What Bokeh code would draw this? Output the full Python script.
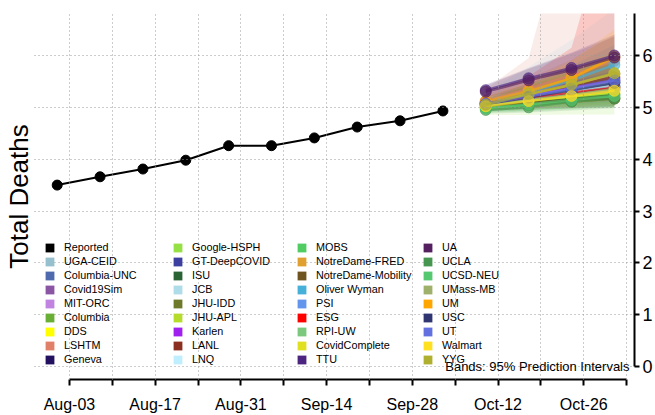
import pandas as pd
from bokeh.plotting import figure
from bokeh.models import (FixedTicker, Legend, LegendItem, Label, Range1d, Title, ColumnDataSource)
from bokeh.embed import file_html
from bokeh.resources import INLINE

# ---------------- data ----------------
reported_dates = ["2020-08-01", "2020-08-08", "2020-08-15", "2020-08-22", "2020-08-29",
                  "2020-09-05", "2020-09-12", "2020-09-19", "2020-09-26", "2020-10-03"]
reported_values = [3.50, 3.66, 3.81, 3.98, 4.26, 4.26, 4.41, 4.62, 4.74, 4.93]

forecast_dates = ["2020-10-10", "2020-10-17", "2020-10-24", "2020-10-31"]

model_names = ["UGA-CEID", "Columbia-UNC", "Covid19Sim", "MIT-ORC", "Columbia", "DDS", "LSHTM", "Geneva",
               "Google-HSPH", "GT-DeepCOVID", "ISU", "JCB", "JHU-IDD", "JHU-APL", "Karlen", "LANL", "LNQ",
               "MOBS", "NotreDame-FRED", "NotreDame-Mobility", "Oliver Wyman", "PSI", "ESG", "RPI-UW",
               "CovidComplete", "TTU",
               "UA", "UCLA", "UCSD-NEU", "UMass-MB", "UM", "USC", "UT", "Walmart", "YYG"]

model_colors = ["#96C0CE", "#4F6AAD", "#8A55A3", "#C084E0", "#6AAF35", "#FFFF00", "#E08068", "#23105E",
                "#95E045", "#3D3FA0", "#2A6435", "#AEDCE8", "#6E7A2A", "#B5DB2B", "#A020F0", "#8B3020", "#BFEFFF",
                "#50CC60", "#E0A030", "#6E5520", "#45B0D8", "#6495ED", "#FF0000", "#7CC87C",
                "#E0E020", "#4B2580",
                "#552060", "#469650", "#55C870", "#9FB06A", "#FFA500", "#2F3570", "#6270E0", "#FFE020", "#B0B030"]

forecast_median = [
    [5.06, 5.18, 5.30, 5.42], [5.08, 5.24, 5.40, 5.55], [5.10, 5.28, 5.46, 5.64], [5.05, 5.15, 5.24, 5.33],
    [5.04, 5.16, 5.28, 5.40], [5.03, 5.12, 5.20, 5.28], [5.12, 5.36, 5.62, 5.90], [5.07, 5.20, 5.34, 5.48],
    [5.02, 5.10, 5.18, 5.26], [5.06, 5.17, 5.28, 5.40], [5.00, 5.08, 5.16, 5.24], [5.08, 5.22, 5.36, 5.50],
    [5.02, 5.06, 5.11, 5.17], [5.05, 5.20, 5.34, 5.50], [5.08, 5.22, 5.37, 5.52], [5.10, 5.26, 5.42, 5.58],
    [5.06, 5.18, 5.30, 5.42],
    [4.98, 5.04, 5.12, 5.20], [5.12, 5.32, 5.56, 5.96], [5.04, 5.10, 5.14, 5.17], [5.09, 5.28, 5.52, 5.82],
    [5.06, 5.20, 5.34, 5.48], [5.08, 5.18, 5.28, 5.38], [5.04, 5.14, 5.24, 5.34], [5.05, 5.25, 5.43, 5.65],
    [5.33, 5.56, 5.76, 6.00],
    [5.30, 5.52, 5.72, 5.96], [4.95, 5.00, 5.11, 5.17], [4.98, 5.06, 5.14, 5.22], [5.04, 5.14, 5.24, 5.36],
    [5.10, 5.30, 5.56, 5.98], [5.06, 5.19, 5.33, 5.47], [5.07, 5.21, 5.36, 5.52], [5.02, 5.12, 5.22, 5.32],
    [5.05, 5.26, 5.44, 5.66],
]
forecast_lower = [
    [4.98, 5.02, 5.08, 5.12], [5.00, 5.08, 5.15, 5.22], [5.02, 5.12, 5.22, 5.30], [4.98, 5.02, 5.06, 5.10],
    [4.94, 4.98, 5.02, 5.06], [4.96, 5.00, 5.04, 5.08], [5.00, 5.08, 5.16, 5.24], [5.00, 5.06, 5.12, 5.18],
    [4.85, 4.85, 4.86, 4.86], [4.98, 5.02, 5.06, 5.10], [4.92, 4.95, 4.98, 5.00], [4.98, 5.02, 5.06, 5.10],
    [4.94, 4.96, 4.98, 5.00], [4.96, 5.02, 5.08, 5.14], [5.02, 5.10, 5.18, 5.26], [5.04, 5.12, 5.20, 5.28],
    [4.98, 5.02, 5.06, 5.10],
    [4.90, 4.92, 4.96, 5.00], [5.02, 5.12, 5.24, 5.40], [4.96, 4.98, 5.00, 5.02], [5.02, 5.14, 5.28, 5.42],
    [4.98, 5.04, 5.10, 5.16], [5.00, 5.04, 5.08, 5.12], [4.96, 5.00, 5.04, 5.08], [4.98, 5.08, 5.18, 5.28],
    [5.20, 5.34, 5.46, 5.58],
    [5.18, 5.30, 5.40, 5.50], [4.88, 4.90, 4.94, 4.98], [4.90, 4.94, 4.98, 5.02], [4.92, 4.96, 5.00, 5.04],
    [5.02, 5.14, 5.30, 5.50], [5.00, 5.08, 5.16, 5.24], [5.00, 5.06, 5.12, 5.18], [4.96, 5.02, 5.08, 5.14],
    [4.98, 5.10, 5.22, 5.34],
]
forecast_upper = [
    [5.15, 5.38, 5.60, 5.85], [5.18, 5.42, 5.68, 5.95], [5.20, 5.46, 5.74, 6.02], [5.12, 5.30, 5.45, 5.60],
    [5.16, 5.40, 5.62, 5.86], [5.10, 5.25, 5.38, 5.50], [5.35, 5.95, 9.00, 11.00], [5.14, 5.34, 5.55, 5.78],
    [5.22, 5.45, 5.72, 6.00], [5.15, 5.34, 5.52, 5.72], [5.08, 5.22, 5.36, 5.50], [5.30, 5.78, 6.30, 6.90],
    [5.12, 5.24, 5.36, 5.48], [5.16, 5.42, 5.68, 5.96], [5.14, 5.34, 5.56, 5.78], [5.16, 5.40, 5.64, 5.90],
    [5.18, 5.40, 5.62, 5.84],
    [5.10, 5.24, 5.40, 5.56], [5.24, 5.56, 5.92, 6.40], [5.12, 5.26, 5.40, 5.56], [5.18, 5.46, 5.80, 6.20],
    [5.16, 5.40, 5.62, 5.86], [5.25, 5.60, 6.15, 9.00], [5.14, 5.30, 5.48, 5.66], [5.14, 5.44, 5.74, 6.08],
    [5.44, 5.76, 6.06, 6.40],
    [5.42, 5.74, 6.04, 6.36], [5.02, 5.12, 5.26, 5.38], [5.06, 5.20, 5.32, 5.46], [5.16, 5.36, 5.56, 5.80],
    [5.20, 5.48, 5.90, 6.50], [5.12, 5.30, 5.50, 5.70], [5.16, 5.38, 5.60, 5.84], [5.08, 5.22, 5.36, 5.50],
    [5.14, 5.42, 5.68, 5.98],
]

tick_dates = ["2020-08-03", "2020-08-10", "2020-08-17", "2020-08-24", "2020-08-31", "2020-09-07",
              "2020-09-14", "2020-09-21", "2020-09-28", "2020-10-05", "2020-10-12", "2020-10-19",
              "2020-10-26", "2020-11-02"]
tick_labels = ["Aug-03", "", "Aug-17", "", "Aug-31", "", "Sep-14", "", "Sep-28", "", "Oct-12", "",
               "Oct-26", ""]
y_ticks = [0, 1, 2, 3, 4, 5, 6]

# ---------------- layout / style ----------------
FONT = "Liberation Sans"
X_START, X_END = pd.Timestamp("2020-07-28 07:00"), pd.Timestamp("2020-11-03 07:00")
Y_START, Y_END = -0.25, 6.81
BAND_ALPHA = 0.15
LINE_ALPHA = 0.65
ON_TOP = ["TTU", "UA"]   # drawn last

rep_x = pd.to_datetime(reported_dates)
fc_x = pd.to_datetime(forecast_dates)
tick_ms = [float(pd.Timestamp(d).value // 10**6) for d in tick_dates]

p = figure(width=655, height=415, x_axis_type="datetime", y_axis_location="right",
           output_backend="svg", toolbar_location=None,
           x_range=Range1d(X_START, X_END), y_range=Range1d(Y_START, Y_END),
           min_border_left=0, min_border_right=21, min_border_top=13, min_border_bottom=35)
p.outline_line_color = None
p.background_fill_color = "white"

# left title
p.add_layout(Title(text="Total Deaths", align="center", text_font=FONT, text_font_size="26px",
                   text_font_style="normal", text_color="black", standoff=2, offset=6), "left")

# axes
p.xaxis.ticker = FixedTicker(ticks=tick_ms)
p.xaxis.major_label_overrides = {t: lab for t, lab in zip(tick_ms, tick_labels)}
p.xaxis.bounds = (tick_ms[0], tick_ms[-1])
p.yaxis.ticker = FixedTicker(ticks=y_ticks)
p.yaxis.bounds = (0, Y_END)
for ax in (p.xaxis[0], p.yaxis[0]):
    ax.axis_line_width = 2
    ax.axis_line_color = "black"
    ax.major_tick_line_width = 2
    ax.major_tick_line_color = "black"
    ax.major_tick_in = 0
    ax.minor_tick_line_color = None
    ax.major_label_text_font = FONT
    ax.major_label_text_color = "black"
p.xaxis.major_tick_out = 6
p.xaxis.major_label_standoff = 10
p.xaxis.major_label_text_font_size = "16px"
p.yaxis.major_tick_out = 5
p.yaxis.major_label_standoff = 3
p.yaxis.major_label_text_font_size = "18px"

# grid
for g in (p.xgrid[0], p.ygrid[0]):
    g.grid_line_color = "#9a9a9a"
    g.grid_line_dash = "1 3"
    g.grid_line_width = 1
    g.level = "guide"

# bands
for col, lo, hi in zip(model_colors, forecast_lower, forecast_upper):
    p.varea(x=fc_x, y1=lo, y2=hi, fill_color=col, fill_alpha=BAND_ALPHA)

# forecast lines + points
order = [i for i, n in enumerate(model_names) if n not in ON_TOP] + \
        [i for i, n in enumerate(model_names) if n in ON_TOP]
for i in order:
    col, med = model_colors[i], forecast_median[i]
    p.line(fc_x, med, line_color=col, line_width=2.5, line_alpha=LINE_ALPHA)
    p.scatter(fc_x, med, size=11, fill_color=col, line_color=col, alpha=LINE_ALPHA)

# reported
p.line(rep_x, reported_values, line_color="black", line_width=2)
p.scatter(rep_x, reported_values, size=10, fill_color="black", line_color="black")

# legend swatches: zero-area quads anchored at each series' first point (invisible in the plot)
legend_names = ["Reported"] + model_names
legend_colors = ["black"] + model_colors
legend_first_x = [rep_x[0]] + [fc_x[0]] * len(model_names)
legend_first_y = [reported_values[0]] + [m[0] for m in forecast_median]
swatches = []
for c, sx, sy in zip(legend_colors, legend_first_x, legend_first_y):
    src = ColumnDataSource(data=dict(l=[sx], r=[sx], t=[sy], b=[sy]))
    swatches.append(p.quad(left="l", right="r", top="t", bottom="b", source=src,
                           fill_color=c, line_color=None))

legend_x = [10, 138, 262, 388]
rows = 9
for ci, lx in enumerate(legend_x):
    items = [LegendItem(label=legend_names[i], renderers=[swatches[i]])
             for i in range(ci * rows, min((ci + 1) * rows, len(legend_names)))]
    leg = Legend(items=items, location=(lx, 13), orientation="vertical",
                 label_text_font=FONT, label_text_font_size="10.8px", label_text_color="black",
                 glyph_width=11, glyph_height=11, label_height=14, label_standoff=9,
                 spacing=0, padding=0, margin=0,
                 border_line_alpha=0, background_fill_alpha=0)
    p.add_layout(leg, "center")

p.add_layout(Label(x=595, y=13, x_units="screen", y_units="screen",
                   text="Bands: 95% Prediction Intervals", text_align="right",
                   text_baseline="middle", text_font=FONT, text_font_size="13px",
                   text_color="black"))

open("out.html", "w").write(file_html(p, INLINE))
